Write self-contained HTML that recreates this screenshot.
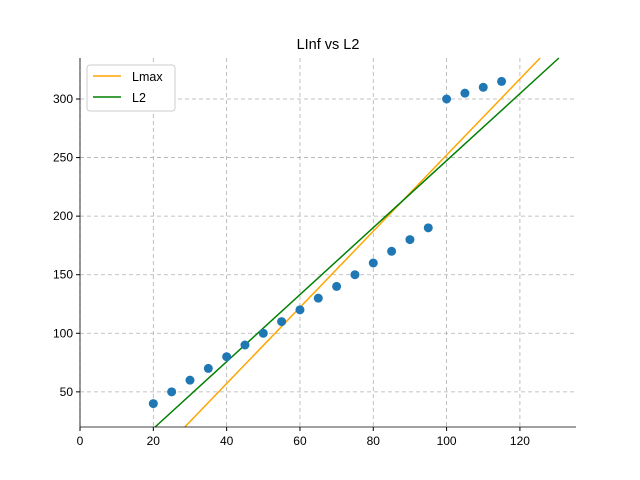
<!DOCTYPE html>
<html><head><meta charset="utf-8"><style>html,body{margin:0;padding:0;background:#fff;width:640px;height:480px;overflow:hidden}svg{display:block;font-family:"Liberation Sans","DejaVu Sans",sans-serif}</style></head>
<body>
<svg id="chart" width="640" height="480"></svg>
<script>
const xs=[20,25,30,35,40,45,50,55,60,65,70,75,80,85,90,95,100,105,110,115];
const ys=[40,50,60,70,80,90,100,110,120,130,140,150,160,170,180,190,300,305,310,315];
const lmaxLine=[3.25,-72.9];
const l2Line=[2.86,-38.6];
const xTicks=[0,20,40,60,80,100,120];
const yTicks=[50,100,150,200,250,300];
const X0=0,X1=135.3,Y0=20,Y1=335;
const L=80,R=576,T=58,B=427;
const sx=v=>L+(v-X0)/(X1-X0)*(R-L);
const sy=v=>B-(v-Y0)/(Y1-Y0)*(B-T);
const NS="http://www.w3.org/2000/svg";
const svg=document.getElementById('chart');
function mk(t,a,p){const e=document.createElementNS(NS,t);for(const k in a)e.setAttribute(k,a[k]);(p||svg).appendChild(e);return e;}
xTicks.forEach(t=>{const g=mk('line',{x1:sx(t),x2:sx(t),y1:T,y2:B,stroke:'#b0b0b0','stroke-width':0.8,'stroke-dasharray':'4,3'});


mk('line',{x1:sx(t),x2:sx(t),y1:B,y2:B+4,stroke:'#000'});
const lb=mk('text',{x:sx(t),y:B+18,'text-anchor':'middle','font-size':12});lb.textContent=t;

});
yTicks.forEach(t=>{const g=mk('line',{x1:L,x2:R,y1:sy(t),y2:sy(t),stroke:'#b0b0b0','stroke-width':0.8,'stroke-dasharray':'4,3'});


mk('line',{x1:L-4,x2:L,y1:sy(t),y2:sy(t),stroke:'#000'});
const lb=mk('text',{x:L-7,y:sy(t)+4,'text-anchor':'end','font-size':12});lb.textContent=t;

});
function line(c,col,name){
  const m=c[0],b=c[1];
  let xa=Math.max(X0,(Y0-b)/m), xb=Math.min(X1,(Y1-b)/m);
  const p=mk('line',{x1:sx(xa),y1:sy(m*xa+b),x2:sx(xb),y2:sy(m*xb+b),stroke:col,'stroke-width':1.5});
  
  }
line(lmaxLine,'orange','lmax-line');
line(l2Line,'green','l2-line');
xs.forEach((x,i)=>{const c=mk('circle',{cx:sx(x),cy:sy(ys[i]),r:4.5,fill:'#1f77b4'});

});
mk('line',{x1:L,x2:L,y1:T,y2:B,stroke:'#000','stroke-width':0.8});
mk('line',{x1:L,x2:R,y1:B,y2:B,stroke:'#000','stroke-width':0.8});
const ti=mk('text',{x:(L+R)/2,y:49,'text-anchor':'middle','font-size':14.5});ti.textContent='LInf vs L2';


const lg=mk('g',{});


mk('rect',{x:87,y:65,width:88,height:46,rx:3,fill:'#fff',stroke:'#ccc'},lg);
mk('line',{x1:93,x2:121,y1:76,y2:76,stroke:'orange','stroke-width':1.5},lg);
const t1=mk('text',{x:132,y:81,'font-size':12.5},lg);t1.textContent='Lmax';
mk('line',{x1:93,x2:121,y1:97,y2:97,stroke:'green','stroke-width':1.5},lg);
const t2=mk('text',{x:132,y:102,'font-size':12.5},lg);t2.textContent='L2';
</script>
</body></html>
